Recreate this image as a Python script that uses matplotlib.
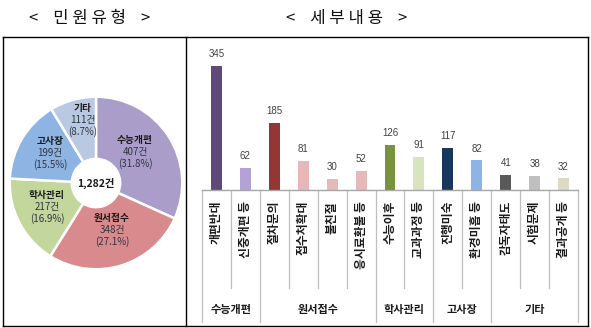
import matplotlib
matplotlib.use("Agg")
import matplotlib.pyplot as plt
from matplotlib.lines import Line2D
import matplotlib.transforms as mtransforms

plt.rcParams['font.family'] = ['Noto Sans CJK KR', 'DejaVu Sans']

# ---- data ----
pie_labels = ["수능개편", "원서접수", "학사관리", "고사장", "기타"]
pie_values = [407, 348, 217, 199, 111]
pie_pcts = ["31.8%", "27.1%", "16.9%", "15.5%", "8.7%"]
pie_total = "1,282건"

bar_labels = ["개편반대", "신중개편 등", "절차문의", "접수처확대", "불친절", "응시료환불 등",
              "수능이후", "교과과정 등", "진행미숙", "환경미흡 등", "감독자태도", "시험문제", "결과공개 등"]
bar_values = [345, 62, 185, 81, 30, 52, 126, 91, 117, 82, 41, 38, 32]
group_names = ["수능개편", "원서접수", "학사관리", "고사장", "기타"]
group_sizes = [2, 4, 2, 2, 3]

pie_colors = ["#AA9DCA", "#D98A8C", "#C3D69B", "#8EB4E3", "#B9C9E2"]
bar_colors = ["#5F497A", "#B3A2D6", "#943634", "#E6B9B8", "#E6B9B8", "#E6B9B8",
              "#77933C", "#D7E4BD", "#17375E", "#8DB4E2", "#595959", "#BFBFBF", "#DDD9C3"]

W, H = 591, 328
fig = plt.figure(figsize=(W / 100, H / 100), dpi=100)


def fx(px):
    return px / W


def fy(py):
    return 1 - py / H


# ---- frame ----
frame_kw = dict(color="black", lw=1.0)
fig.add_artist(Line2D([fx(3), fx(588)], [fy(37), fy(37)], **frame_kw))
fig.add_artist(Line2D([fx(3), fx(588)], [fy(326), fy(326)], **frame_kw))
fig.add_artist(Line2D([fx(3), fx(3)], [fy(37), fy(326)], **frame_kw))
fig.add_artist(Line2D([fx(588), fx(588)], [fy(37), fy(326)], **frame_kw))
fig.add_artist(Line2D([fx(186), fx(186)], [fy(37), fy(326)], **frame_kw))

# ---- titles ----
fig.text(fx(90), fy(18), "<    민 원 유 형    >", ha="center", va="center", fontsize=12, color="#111111")
fig.text(fx(347), fy(18), "<    세 부 내 용    >", ha="center", va="center", fontsize=12, color="#111111")

# ---- donut ----
cx, cy, R = 96, 183, 88
axp = fig.add_axes([fx(cx - R), 1 - (cy + R) / H, 2 * R / W, 2 * R / H])
wedges, _ = axp.pie(pie_values, colors=pie_colors, startangle=90, counterclock=False,
                    radius=1.0, wedgeprops=dict(width=0.72, edgecolor="white", linewidth=1.8))
axp.set_xlim(-1.02, 1.02)
axp.set_ylim(-1.02, 1.02)
axp.set_aspect("equal")
axp.axis("off")
axp.text(0, 0, pie_total, ha="center", va="center", fontsize=7.5, fontweight="bold", color="#1a1a1a")

label_pos = [(135, 152), (112, 230), (47, 207), (50, 153), (83, 120)]
for (px, py), name, val, pct in zip(label_pos, pie_labels, pie_values, pie_pcts):
    fig.text(fx(px), fy(py - 12), name, ha="center", va="center", fontsize=7,
             fontweight="bold", color="#1a1a1a")
    fig.text(fx(px), fy(py), f"{val}건", ha="center", va="center", fontsize=7, color="#2f3540")
    fig.text(fx(px), fy(py + 12), f"({pct})", ha="center", va="center", fontsize=7, color="#2f3540")

# ---- bars ----
x0, x1, ybase, ytop = 202, 578, 190, 46
axb = fig.add_axes([fx(x0), fy(ybase), (x1 - x0) / W, (ybase - ytop) / H])
n = len(bar_values)
xs = list(range(n))
axb.bar(xs, bar_values, width=0.38, color=bar_colors, zorder=2)
axb.set_xlim(-0.5, n - 0.5)
axb.set_ylim(0, 400)
for s in ["top", "right", "left"]:
    axb.spines[s].set_visible(False)
axb.spines["bottom"].set_color("#A6A6A6")
axb.spines["bottom"].set_linewidth(1.0)
axb.set_xticks([])
axb.set_yticks([])

for x, v in zip(xs, bar_values):
    axb.annotate(str(v), (x, v), xytext=(0, 5), textcoords="offset points", ha="center",
                 va="bottom", fontsize=7, color="#404040",
                 family=["Liberation Sans", "DejaVu Sans"])

trans = mtransforms.blended_transform_factory(axb.transData, axb.transAxes)
axh = ybase - ytop


def ay(py):
    return -(py - ybase) / axh


boundaries = [-0.5]
for g in group_sizes:
    boundaries.append(boundaries[-1] + g)
for i in range(n + 1):
    xb = i - 0.5
    long = xb in boundaries
    y_end = ay(322) if long else ay(288)
    axb.plot([xb, xb], [0, y_end], transform=trans, color="#BFBFBF", lw=0.9, clip_on=False)

for x, lab in zip(xs, bar_labels):
    axb.text(x, ay(201), lab, transform=trans, rotation=90, ha="center", va="top",
             fontsize=8.5, fontweight="bold", color="#1a1a1a")

for i, g in enumerate(group_names):
    mid = (boundaries[i] + boundaries[i + 1]) / 2
    axb.text(mid, ay(309), g, transform=trans, ha="center", va="center",
             fontsize=8, fontweight="bold", color="#1a1a1a")

fig.savefig("out.png", dpi=100)
